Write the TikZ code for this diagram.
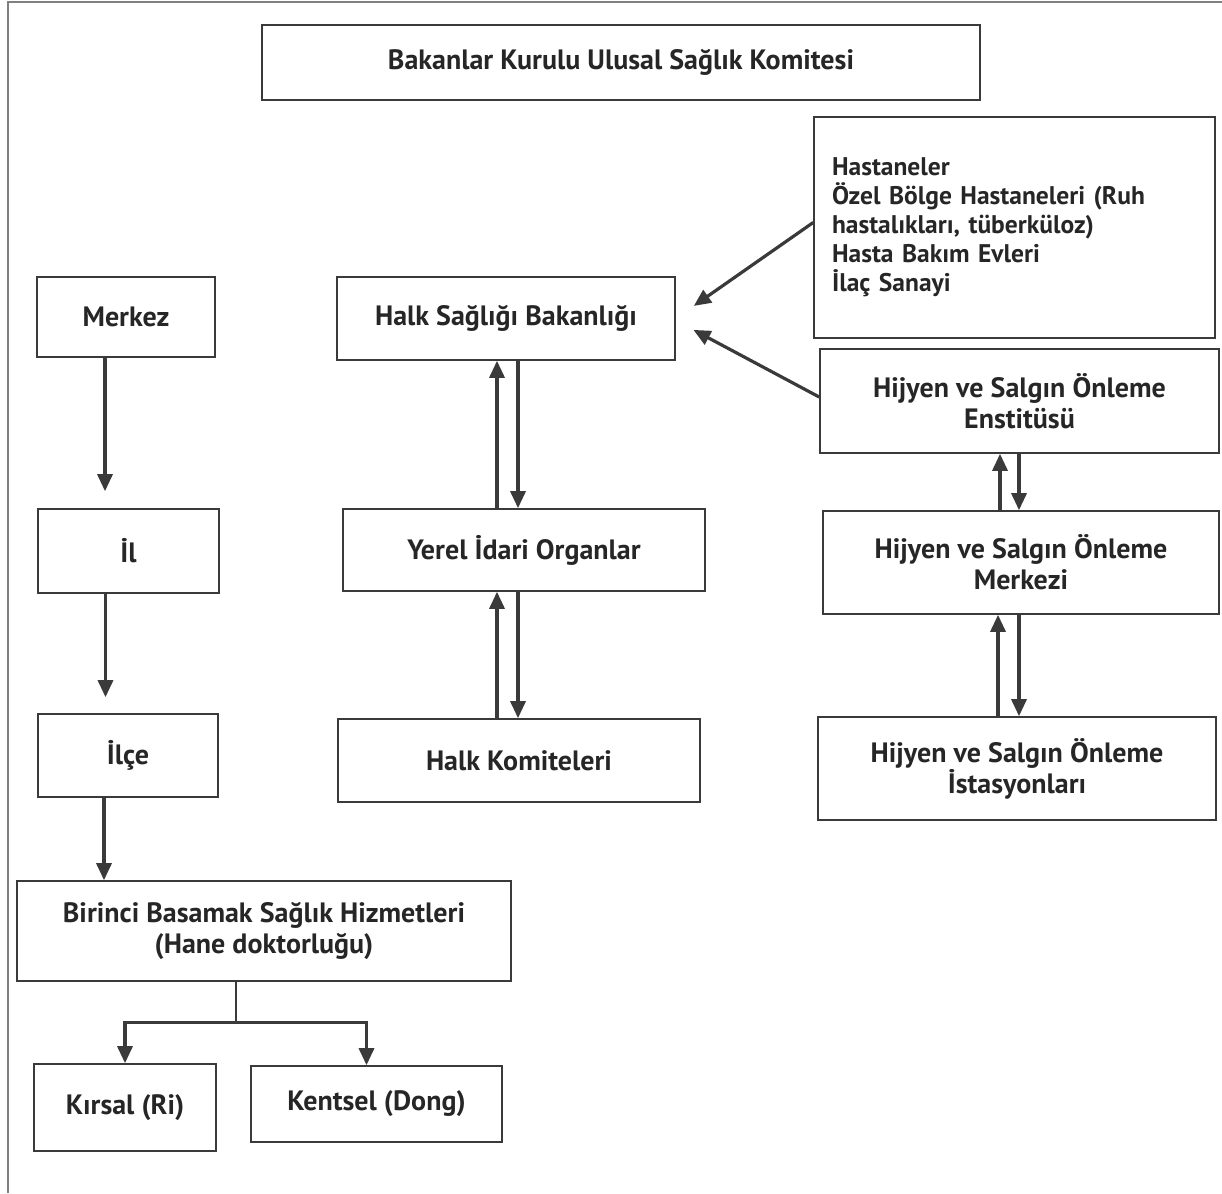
\documentclass[tikz,border=0pt]{standalone}
\usepackage{fontspec}
\setmainfont{PT Sans}
\usetikzlibrary{arrows.meta}
\definecolor{linegray}{HTML}{3A3A3A}
\definecolor{textgray}{HTML}{262626}

\begin{document}
\begin{tikzpicture}[x=1pt, y=-1pt,
  kutu/.style={draw=linegray, line width=1.6pt, inner sep=0pt, align=center,
    text=textgray, font=\fontsize{28}{31}\selectfont\bfseries},
  ok/.style={draw=linegray, line width=3.2pt, -{Triangle[length=17pt,width=15pt]}},
  ince/.style={draw=linegray, line width=1.6pt}]
\useasboundingbox (0,0) rectangle (1222,1193);
\draw [line width=1.2pt, draw=gray] (8,1193) -- (8,2) -- (1222,2);

\node [kutu, minimum width=718pt, minimum height=75pt] (komite) at (621,62.5) {Bakanlar Kurulu Ulusal Sağlık Komitesi};
\node [kutu, minimum width=401pt, minimum height=221pt, text width=365pt, align=left,
  font=\fontsize{25.5}{29}\selectfont\bfseries] (hastane) at (1014.5,227.5)
  {Hastaneler\\Özel Bölge Hastaneleri (Ruh\\hastalıkları, tüberküloz)\\Hasta Bakım Evleri\\İlaç Sanayi};
\node [kutu, minimum width=399pt, minimum height=104pt] (enstitu) at (1019.5,401) {Hijyen ve Salgın Önleme\\Enstitüsü};
\node [kutu, minimum width=396pt, minimum height=103pt] (hmerkez) at (1021,562.5) {Hijyen ve Salgın Önleme\\Merkezi};
\node [kutu, minimum width=398pt, minimum height=103pt] (istasyon) at (1017,768.5) {Hijyen ve Salgın Önleme\\İstasyonları};

\node [kutu, minimum width=338pt, minimum height=83pt] (bakanlik) at (506,318.5) {Halk Sağlığı Bakanlığı};
\node [kutu, minimum width=362pt, minimum height=82pt] (yerel) at (524,550) {Yerel İdari Organlar};
\node [kutu, minimum width=362pt, minimum height=83pt] (halkkom) at (519,760.5) {Halk Komiteleri};

\node [kutu, minimum width=178pt, minimum height=80pt] (merkez) at (126,317) {Merkez};
\node [kutu, minimum width=181pt, minimum height=84pt] (il) at (128.5,551) {İl};
\node [kutu, minimum width=180pt, minimum height=83pt] (ilce) at (128,755.5) {İlçe};
\node [kutu, minimum width=494pt, minimum height=100pt] (birinci) at (264,931) {Birinci Basamak Sağlık Hizmetleri\\(Hane doktorluğu)};
\node [kutu, minimum width=182pt, minimum height=87pt] (kirsal) at (125,1107.5) {Kırsal (Ri)};
\node [kutu, minimum width=251pt, minimum height=76pt] (kentsel) at (376.5,1104) {Kentsel (Dong)};

\draw [ok, shorten >=22pt] ([yshift=5pt]hastane.west) -- (bakanlik.east);
\draw [ok, shorten >=20pt] ([yshift=4pt]enstitu.west) -- ([yshift=-2pt]bakanlik.east);

\draw [ok] ([xshift=-9pt]bakanlik.south |- yerel.north) -- ([xshift=-9pt]bakanlik.south);
\draw [ok] ([xshift=12pt]bakanlik.south) -- ([xshift=12pt]bakanlik.south |- yerel.north);
\draw [ok] ([xshift=-22pt]halkkom.north) -- ([xshift=-22pt]halkkom.north |- yerel.south);
\draw [ok] ([xshift=-1pt]halkkom.north |- yerel.south) -- ([xshift=-1pt]halkkom.north);

\draw [ok] ([xshift=-21pt]hmerkez.north) -- ([xshift=-21pt]hmerkez.north |- enstitu.south);
\draw [ok] ([xshift=-2pt]hmerkez.north |- enstitu.south) -- ([xshift=-2pt]hmerkez.north);
\draw [ok] ([xshift=-19pt]istasyon.north) -- ([xshift=-19pt]istasyon.north |- hmerkez.south);
\draw [ok] ([xshift=2pt]istasyon.north |- hmerkez.south) -- ([xshift=2pt]istasyon.north);

\draw [ok, shorten >=17pt] ([xshift=-21pt]merkez.south) -- ([xshift=-21pt]merkez.south |- il.north);
\draw [ok, shorten >=16pt] ([xshift=-23pt]il.south) -- ([xshift=-23pt]il.south |- ilce.north);
\draw [ok] ([xshift=-24pt]ilce.south) -- ([xshift=-24pt]ilce.south |- birinci.north);

\draw [ince] ([xshift=-28pt]birinci.south) -- ++(0,41) coordinate (dal);
\draw [ok] (dal) -| (kirsal.north);
\draw [ok] (dal) -| ([xshift=-10pt]kentsel.north);
\end{tikzpicture}
\end{document}
